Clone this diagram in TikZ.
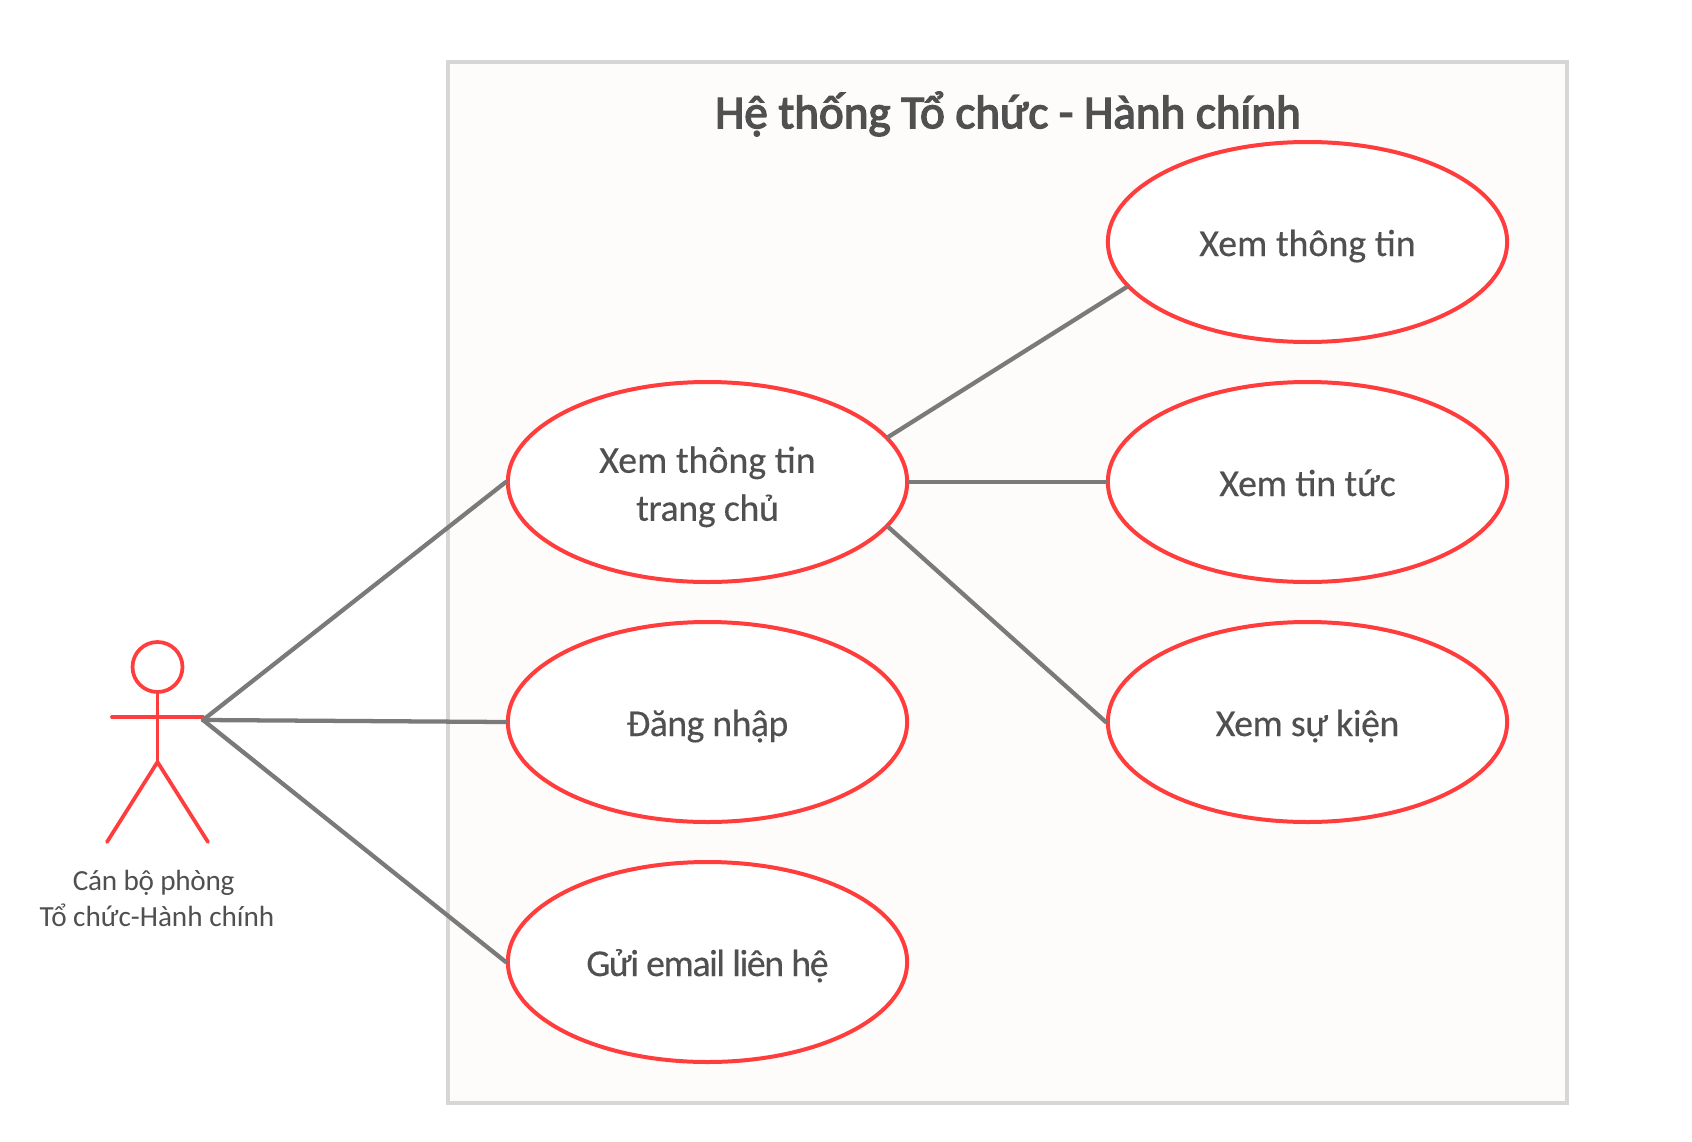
\documentclass[tikz,border=0pt]{standalone}
\usepackage{fontspec}
\setmainfont{Carlito}
\newfontface\titleface{Carlito}[FakeBold=3]
\newfontface\bodyface{Carlito}[FakeBold=0.25]
\newcommand{\tightby}[1]{\addfontfeature{LetterSpace=#1}}
\usetikzlibrary{shapes.geometric}
\definecolor{ucred}{HTML}{FF3D3D}
\definecolor{linegrey}{HTML}{7A7A7A}
\definecolor{framegrey}{HTML}{D6D6D6}
\definecolor{framefill}{HTML}{FDFCFB}
\definecolor{txt}{HTML}{505050}
\tikzset{
  usecase/.style={ellipse,draw=ucred,line width=3pt,fill=white,minimum width=299.5pt,minimum height=150pt,inner sep=0pt,text=txt,align=center,font=\fontsize{28.4}{36}\bodyface},
  oneline/.style={usecase,text height=27pt,text depth=6pt},
  assoc/.style={draw=linegrey,line width=3.2pt,line cap=round},
  stick/.style={draw=ucred,line width=2.8pt,line cap=round},
}
\begin{document}
\begin{tikzpicture}[x=0.75pt,y=-0.75pt]
\useasboundingbox (0,0) rectangle (1692,1142);
\fill[white] (0,0) rectangle (1692,1142);
\node[draw=framegrey,fill=framefill,line width=3pt,minimum width=839pt,minimum height=780.5pt,inner sep=0pt] (frame) at (1007.5,582.5) {};
\node[text=txt,font=\fontsize{35.3}{40}\titleface,inner sep=0pt] (title) at (1008,114) {Hệ thống Tổ chức - Hành chính};
\node[usecase] (home) at (707.5,482) {\rule{0pt}{27pt}Xem thông tin\\{\tightby{-1}trang chủ}};
\node[oneline] (login) at (707.5,722) {\tightby{-1.6}Đăng nhập};
\node[oneline] (mail) at (707.5,962) {\tightby{-3.7}Gửi email liên hệ};
\node[oneline] (info) at (1307.5,242) {Xem thông tin};
\node[oneline] (news) at (1307.5,482) {\tightby{-0.5}Xem tin tức};
\node[oneline] (event) at (1307.5,722) {\tightby{-1.3}Xem sự kiện};
% actor
\node[circle,draw=ucred,line width=2.8pt,minimum size=37.5pt,inner sep=0pt] (head) at (157.5,667) {};
\coordinate (armL) at (112,717);
\coordinate (armR) at (203,717);
\coordinate (hip) at (157.5,762);
\coordinate (footL) at (107,842);
\coordinate (footR) at (208,842);
\coordinate (hand) at (203,720);
\draw[stick] (head.south) -- (hip);
\draw[stick] (armL) -- (armR);
\draw[stick] (footL) -- (hip) -- (footR);
\node[text=txt,align=center,inner sep=0pt,font=\fontsize{21.9}{27}\selectfont] (actor) at (157,898) {{\tightby{-1}Cán bộ phòng}\hspace*{5pt}\\Tổ chức-Hành chính};
% connectors
\draw[assoc] (hand) -- (home.west);
\draw[assoc] (hand) -- (login.west);
\draw[assoc] (hand) -- (mail.west);
\draw[assoc] (home.14) -- (info.194);
\draw[assoc] (home.east) -- (news.west);
\draw[assoc] (home.-14) -- (event.west);
\end{tikzpicture}
\end{document}
